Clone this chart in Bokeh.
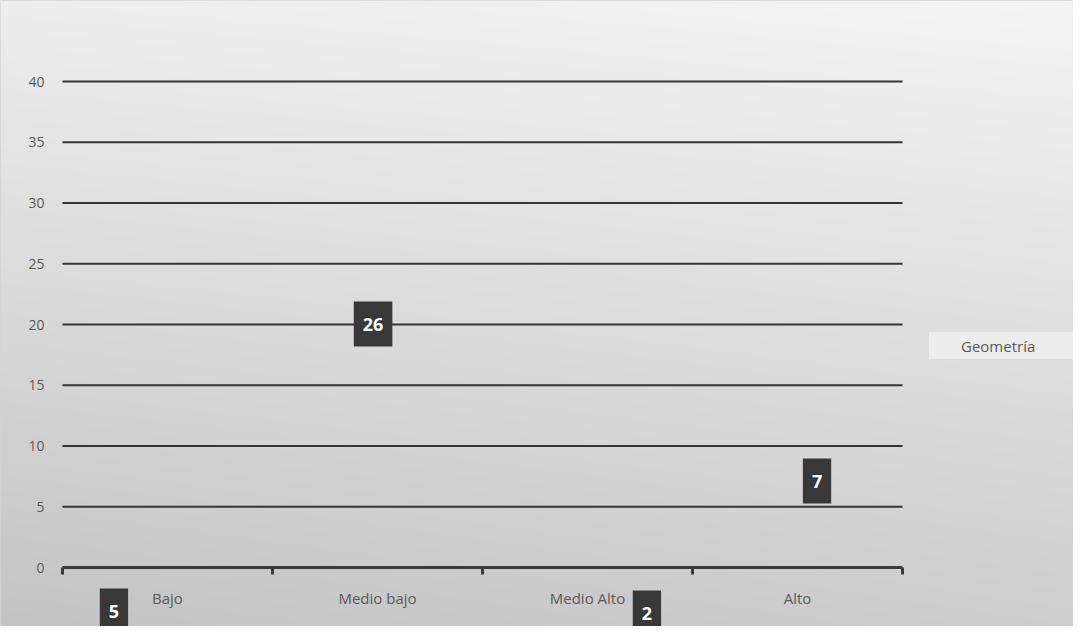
import numpy as np
from bokeh.plotting import figure
from bokeh.models import (Range1d, LinearAxis, FixedTicker, Legend, LegendItem,
                          ColumnDataSource)
from bokeh.core.properties import value
from bokeh.embed import file_html
from bokeh.resources import INLINE

# ---- data ----
categories = ["Bajo", "Medio bajo", "Medio Alto", "Alto"]
values = [5, 26, 2, 7]
series_name = "Geometría"
y_ticks = [0, 5, 10, 15, 20, 25, 30, 35, 40]

# label placement (layout, as the data labels were drawn in the original)
label_dx = [-0.255, -0.021, 0.283, 0.093]
label_top = [-1.73, 21.89, -1.90, 8.97]

W, H = 1073, 626
x0, x1 = -0.2952, 4.8143
y0, y1 = -4.856, 46.667

p = figure(width=W, height=H, output_backend="svg", toolbar_location=None,
           x_axis_type=None, y_axis_type=None,
           x_range=Range1d(x0, x1), y_range=Range1d(y0, y1),
           min_border=0, min_border_left=0, min_border_right=0,
           min_border_top=0, min_border_bottom=0)
p.outline_line_color = "#d4d4d4"
p.border_fill_color = "#dcdcdc"

# background gradient
rows, cols = 320, 120
ty = np.linspace(0, 1, rows)[:, None]          # 0 bottom -> 1 top
tx = np.linspace(0, 1, cols)[None, :]
lvl = 196 + 48 * ty + 10 * tx * (1 - ty) - 6 * (1 - tx) * ty
lvl = np.clip(lvl, 0, 255).astype(np.uint32)
img = (255 << 24) | (lvl << 16) | (lvl << 8) | lvl
p.image_rgba(image=[img.astype(np.uint32)], x=x0, y=y0, dw=x1 - x0, dh=y1 - y0,
             level="image")

# gridlines
n = len(categories)
gl = [t for t in y_ticks if t > 0]
p.segment(x0=[0] * len(gl), x1=[n] * len(gl), y0=gl, y1=gl,
          line_color="#353535", line_width=2)

# bars (invisible in the original, only the series exists)
xc = [i + 0.5 for i in range(n)]
src = ColumnDataSource(dict(x=xc, top=values, cat=categories))
bars = p.vbar(x="x", top="top", width=0.6, source=src,
              fill_alpha=0, line_alpha=0)

# data labels
lab = ColumnDataSource(dict(x=[c + d for c, d in zip(xc, label_dx)],
                            y=label_top, t=[str(v) for v in values]))
p.text(x="x", y="y", text="t", source=lab, text_align="center",
       text_baseline="top", text_color="white", text_font=value("Open Sans"),
       text_font_style="bold", text_font_size="18px",
       background_fill_color="#383838",
       padding=dict(left=9, right=9, top=16, bottom=16))

# x axis
xaxis = LinearAxis(ticker=FixedTicker(ticks=xc, minor_ticks=list(range(n + 1))),
                   fixed_location=0, bounds=(0, n))
xaxis.major_label_overrides = {c: lbl for c, lbl in zip(xc, categories)}
xaxis.axis_line_color = "#3a3a3a"
xaxis.axis_line_width = 3
xaxis.major_tick_line_color = None
xaxis.major_tick_out = 0
xaxis.major_tick_in = 0
xaxis.minor_tick_line_color = "#3a3a3a"
xaxis.minor_tick_line_width = 3
xaxis.minor_tick_out = 7
xaxis.minor_tick_in = 0
xaxis.major_label_standoff = 13
xaxis.major_label_text_color = "#595959"
xaxis.major_label_text_font = "Open Sans"
xaxis.major_label_text_font_size = "15px"
p.add_layout(xaxis, "below")

# y axis
yaxis = LinearAxis(ticker=FixedTicker(ticks=y_ticks), fixed_location=0,
                   bounds=(0, 40))
yaxis.axis_line_color = None
yaxis.major_tick_line_color = None
yaxis.minor_tick_line_color = None
yaxis.major_tick_out = 0
yaxis.major_tick_in = 0
yaxis.major_label_standoff = 18
yaxis.major_label_text_color = "#595959"
yaxis.major_label_text_font = "Open Sans"
yaxis.major_label_text_font_size = "14px"
p.add_layout(yaxis, "left")

# legend
legend = Legend(items=[LegendItem(label=series_name, renderers=[bars])],
                location=(929, 267), orientation="vertical",
                background_fill_color="#ededed", background_fill_alpha=1,
                border_line_color=None, padding=0, margin=0,
                glyph_width=20, glyph_height=27, label_height=27,
                label_standoff=12, label_width=120,
                label_text_color="#595959", label_text_font="Open Sans",
                label_text_font_size="15px")
p.add_layout(legend)

open("out.html", "w").write(file_html(p, INLINE))
